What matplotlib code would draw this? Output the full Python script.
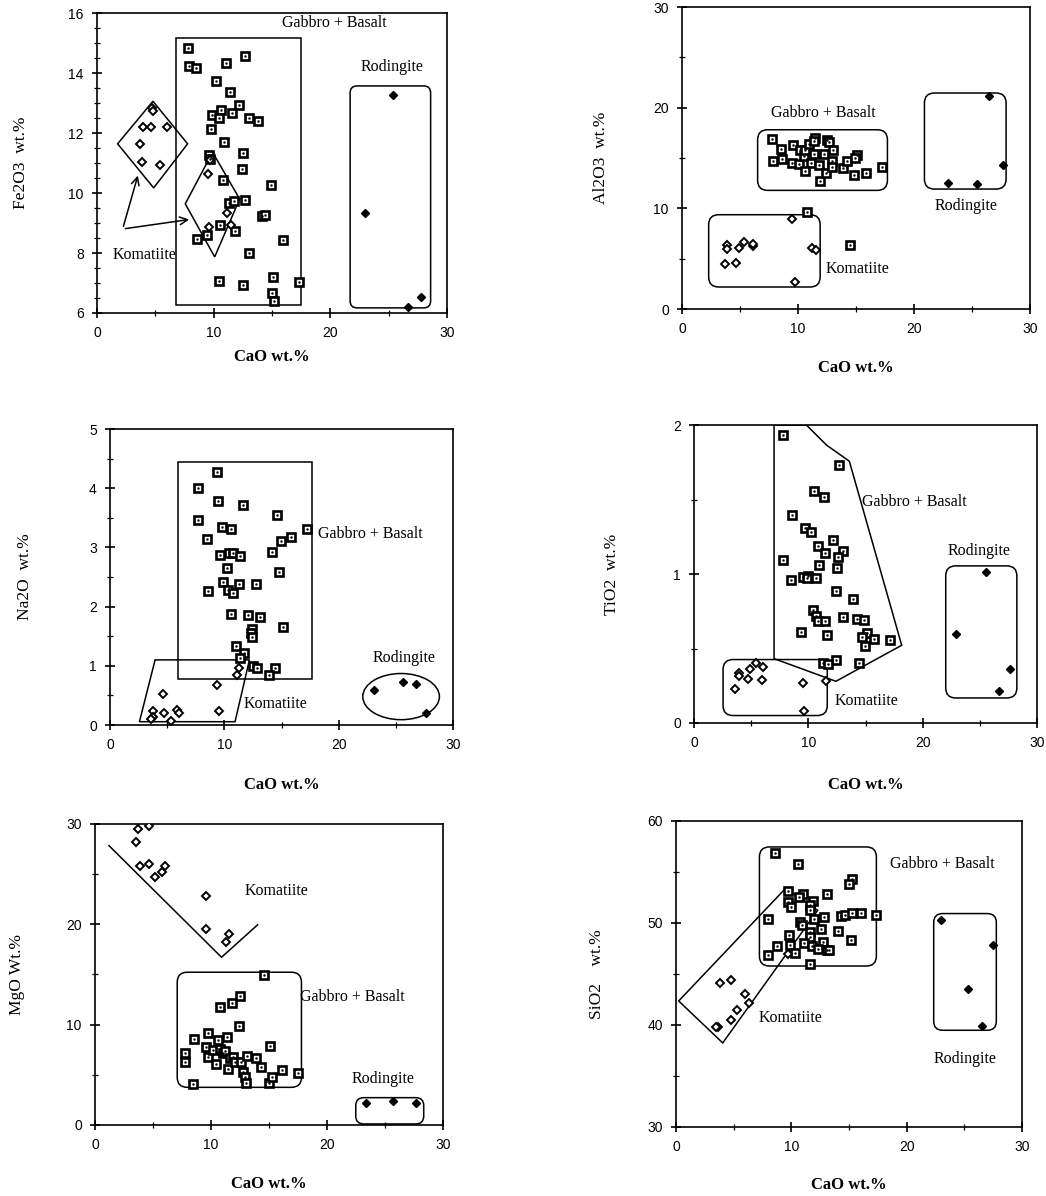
import matplotlib.pyplot as plt
from matplotlib.patches import Polygon, FancyBboxPatch, Ellipse
from matplotlib.ticker import MultipleLocator

# ---- data (CaO, oxide) ----
fe_gabbro = [(7.8, 14.83), (7.86, 14.22), (8.5, 14.17), (11.06, 14.33), (12.7, 14.58),
             (10.2, 13.72), (11.37, 13.36), (12.2, 12.94), (9.9, 12.6), (10.6, 12.78),
             (10.46, 12.5), (11.57, 12.67), (13.0, 12.49), (13.77, 12.4), (9.8, 12.13),
             (10.86, 11.7), (12.49, 11.33), (9.6, 11.28), (9.71, 11.13), (12.43, 10.8),
             (10.8, 10.44), (14.9, 10.28), (11.29, 9.67), (11.71, 9.72), (12.71, 9.78),
             (14.14, 9.24), (14.43, 9.28), (8.57, 8.47), (9.46, 8.61), (10.57, 8.94),
             (11.86, 8.74), (13.0, 8.0), (15.94, 8.44), (10.43, 7.06), (12.49, 6.94),
             (15.09, 7.19), (15.0, 6.67), (15.2, 6.41), (17.29, 7.02)]
fe_komatiite = [(4.7, 12.85), (4.8, 12.72), (3.94, 12.2), (4.66, 12.2), (6.0, 12.2),
                (3.66, 11.65), (3.83, 11.02), (5.37, 10.93), (9.49, 10.62), (9.71, 11.1),
                (11.14, 9.33), (9.63, 8.86), (11.49, 8.95)]
fe_rodingite = [(25.4, 13.27), (23.0, 9.32), (27.8, 6.54), (26.7, 6.21)]

al_gabbro = [(7.75, 16.89), (7.81, 14.67), (8.56, 15.93), (8.61, 14.93), (9.53, 16.26),
             (10.19, 15.76), (9.5, 14.5), (10.05, 14.4), (10.54, 15.17), (10.62, 15.83),
             (10.91, 16.42), (11.48, 16.99), (11.34, 16.66), (11.11, 14.5), (10.62, 13.68),
             (11.34, 15.43), (11.77, 14.27), (11.86, 12.68), (12.2, 15.43), (12.49, 16.82),
             (12.63, 16.56), (12.43, 13.51), (12.92, 14.67), (13.06, 15.76), (12.92, 14.1),
             (13.92, 14.0), (14.21, 14.67), (14.79, 13.34), (15.07, 15.3), (14.93, 15.0),
             (15.88, 13.51), (17.23, 14.1), (14.5, 6.39), (10.77, 9.64)]
al_komatiite = [(3.73, 4.47), (4.68, 4.57), (3.88, 6.39), (3.88, 5.96), (4.88, 6.06),
                (5.37, 6.66), (6.12, 6.23), (6.12, 6.46), (9.45, 8.94), (9.76, 2.65),
                (11.25, 6.06), (11.54, 5.89)]
al_rodingite = [(22.97, 12.52), (25.41, 12.42), (26.5, 21.13), (27.7, 14.27)]

na_gabbro = [(9.33, 4.27), (7.73, 4.01), (9.42, 3.78), (11.6, 3.72), (14.58, 3.54),
             (7.7, 3.47), (9.77, 3.34), (10.55, 3.31), (17.2, 3.31), (8.45, 3.15),
             (15.8, 3.17), (14.96, 3.1), (14.14, 2.93), (9.62, 2.87), (10.38, 2.9),
             (10.79, 2.91), (11.37, 2.85), (10.2, 2.65), (14.81, 2.59), (9.91, 2.41),
             (11.25, 2.38), (12.77, 2.38), (8.57, 2.27), (10.35, 2.28), (10.73, 2.23),
             (10.58, 1.88), (12.1, 1.85), (13.12, 1.83), (15.16, 1.66), (12.45, 1.63),
             (12.3, 1.56), (12.39, 1.48), (11.02, 1.34), (11.72, 1.21), (11.37, 1.13),
             (12.54, 0.99), (12.89, 0.97), (14.43, 0.96), (13.88, 0.85)]
na_komatiite = [(4.6, 0.52), (3.79, 0.23), (3.79, 0.14), (3.56, 0.1), (4.72, 0.2),
                (5.83, 0.25), (6.03, 0.2), (5.3, 0.07), (9.39, 0.67), (9.5, 0.23),
                (11.31, 0.96), (11.08, 0.85)]
na_rodingite = [(23.09, 0.59), (25.66, 0.73), (26.76, 0.7), (27.64, 0.21)]

ti_gabbro = [(7.74, 1.937), (12.7, 1.73), (10.51, 1.56), (11.39, 1.52), (8.53, 1.395),
             (9.69, 1.31), (10.19, 1.283), (12.12, 1.227), (10.86, 1.19), (13.05, 1.156),
             (11.45, 1.144), (12.61, 1.115), (7.74, 1.093), (10.95, 1.064), (12.47, 1.044),
             (9.93, 0.99), (8.44, 0.96), (9.55, 0.98), (9.84, 0.974), (10.63, 0.974),
             (12.41, 0.885), (13.87, 0.835), (10.36, 0.761), (10.66, 0.717), (10.8, 0.683),
             (11.45, 0.685), (13.0, 0.712), (14.22, 0.697), (14.86, 0.69), (9.34, 0.611),
             (11.65, 0.593), (15.1, 0.607), (14.66, 0.578), (15.74, 0.567), (17.14, 0.555),
             (14.95, 0.517), (12.41, 0.421), (11.24, 0.403), (11.74, 0.394), (14.45, 0.403)]
ti_komatiite = [(5.4, 0.405), (4.88, 0.365), (6.04, 0.376), (3.91, 0.336), (3.91, 0.314),
                (4.76, 0.298), (5.96, 0.291), (3.62, 0.231), (9.49, 0.269), (11.5, 0.28),
                (9.64, 0.078)]
ti_rodingite = [(22.92, 0.6), (25.49, 1.015), (27.65, 0.365), (26.63, 0.215)]

mg_gabbro = [(14.56, 14.95), (12.49, 12.86), (11.77, 12.19), (10.82, 11.79), (12.43, 9.9),
             (9.76, 9.14), (8.56, 8.54), (10.62, 8.47), (11.4, 8.74), (15.13, 7.91),
             (7.75, 7.14), (7.75, 6.31), (9.56, 7.81), (9.76, 6.81), (10.19, 7.48),
             (10.76, 7.54), (11.05, 7.14), (11.2, 7.41), (11.63, 6.64), (11.91, 6.81),
             (11.48, 5.55), (10.42, 6.08), (12.06, 6.31), (12.63, 6.31), (13.12, 6.88),
             (13.87, 6.71), (14.27, 5.81), (12.72, 5.32), (12.92, 4.75), (13.06, 4.15),
             (8.47, 4.09), (15.02, 4.15), (15.3, 4.82), (16.08, 5.48), (17.51, 5.22)]
mg_komatiite = [(3.73, 29.5), (4.68, 29.8), (3.53, 28.24), (3.88, 25.81), (4.68, 25.98),
                (5.17, 24.75), (5.8, 25.25), (6.03, 25.81), (9.53, 22.82), (9.53, 19.5),
                (11.28, 18.27), (11.57, 19.0)]
mg_rodingite = [(23.34, 2.16), (25.7, 2.39), (27.65, 2.16)]

si_gabbro = [(8.55, 56.86), (10.55, 55.75), (15.26, 54.35), (14.97, 53.79), (9.68, 53.14),
             (11.01, 52.81), (10.64, 52.55), (13.09, 52.81), (11.88, 52.16), (9.71, 52.06),
             (11.59, 51.73), (10.0, 51.57), (11.65, 51.24), (7.98, 50.36), (11.94, 50.42),
             (12.8, 50.59), (14.34, 50.65), (14.68, 50.75), (15.26, 50.98), (16.07, 51.01),
             (17.37, 50.82), (10.72, 50.1), (10.92, 49.77), (12.57, 49.44), (14.05, 49.22),
             (11.59, 49.12), (9.8, 48.79), (11.65, 48.63), (15.2, 48.3), (11.13, 48.04),
             (12.75, 48.14), (8.76, 47.71), (9.91, 47.81), (11.77, 47.71), (12.28, 47.48),
             (13.09, 47.32), (13.24, 47.39), (10.35, 47.09), (7.95, 46.83), (11.65, 46.01)]
si_komatiite = [(9.68, 46.93), (3.84, 44.12), (4.77, 44.38), (5.95, 43.07), (6.3, 42.16),
                (5.29, 41.44), (4.77, 40.52), (3.64, 39.8), (3.5, 39.8)]
si_rodingite = [(22.98, 50.33), (25.32, 43.5), (27.46, 47.81), (26.53, 39.9)]

# field outlines (CaO, oxide)
fe_gb_rect = (6.77, 6.27, 17.5, 15.18)
fe_ko_diamond1 = [(1.77, 11.64), (4.8, 13.06), (7.77, 11.64), (4.86, 10.17)]
fe_ko_diamond2 = [(7.57, 9.64), (9.91, 11.36), (12.23, 9.8), (10.09, 7.87)]
fe_ro_box = (21.7, 6.17, 28.6, 13.57)
al_gb_box = (6.52, 11.79, 17.71, 17.81)
al_ko_box = (2.3, 2.19, 11.91, 9.37)
al_ro_box = (20.9, 11.92, 27.94, 21.46)
na_gb_rect = (5.98, 0.77, 17.64, 4.44)
na_ko_poly = [(2.57, 0.056), (3.94, 1.1), (12.19, 1.1), (10.93, 0.056)]
na_ro_ellipse = (25.45, 0.48, 6.7, 0.78)
ti_gb_poly = [(7.0, 2.0), (9.84, 2.0), (11.59, 1.866), (13.58, 1.758), (18.16, 0.522),
              (12.41, 0.28), (7.0, 0.432)]
ti_ko_box = (2.54, 0.05, 11.65, 0.426)
ti_ro_box = (22.01, 0.168, 28.23, 1.055)
mg_ko_line = [(1.15, 27.9), (10.91, 16.71), (14.07, 20.0)]
mg_gb_box = (7.09, 3.75, 17.8, 15.22)
mg_ro_box = (22.48, 0.1, 28.34, 2.72)
si_gb_box = (7.23, 45.78, 17.37, 57.45)
si_ko_poly = [(0.23, 42.35), (9.48, 53.37), (12.28, 51.24), (4.05, 38.24)]
si_ro_box = (22.34, 39.48, 27.77, 50.92)

W, H = 1046, 1196
fig = plt.figure(figsize=(W / 100, H / 100), dpi=100)
serif = 'Liberation Serif'
sans = 'Liberation Sans'


def make_axes(rect, ylim, ystep, yminor, ylabel, ylab_x, xlab_y):
    ax = fig.add_axes(rect)
    ax.set_xlim(0, 30)
    ax.set_ylim(*ylim)
    ax.xaxis.set_major_locator(MultipleLocator(10))
    ax.xaxis.set_minor_locator(MultipleLocator(5))
    ax.yaxis.set_major_locator(MultipleLocator(ystep))
    ax.yaxis.set_minor_locator(MultipleLocator(yminor))
    ax.tick_params(which='major', direction='inout', length=7, width=1.2,
                   labelsize=10, pad=6)
    ax.tick_params(which='minor', direction='inout', length=4, width=0.9)
    for lab in ax.get_xticklabels() + ax.get_yticklabels():
        lab.set_fontfamily(sans)
    for s in ax.spines.values():
        s.set_linewidth(1.2)
    ax.set_xlabel('CaO wt.%', fontfamily=serif, fontsize=12, fontweight='bold')
    ax.set_ylabel(ylabel, fontfamily=serif, fontsize=12.5)
    ax.xaxis.set_label_coords(0.5, xlab_y)
    ax.yaxis.set_label_coords(ylab_x, 0.5)
    return ax


def plot_points(ax, gabbro, komatiite, rodingite):
    gx, gy = zip(*gabbro)
    ax.plot(gx, gy, 's', ms=5.8, mfc='white', mec='black', mew=1.9, zorder=3)
    ax.plot(gx, gy, '.', ms=1.5, color='black', zorder=4)
    kx, ky = zip(*komatiite)
    ax.plot(kx, ky, 'D', ms=3.8, mfc='white', mec='black', mew=1.4, zorder=3)
    rx, ry = zip(*rodingite)
    ax.plot(rx, ry, 'D', ms=4.5, color='black', zorder=3)


def rounded(ax, box, rad_px=9):
    x0, y0, x1, y1 = box
    pos = ax.get_position()
    xs = (ax.get_xlim()[1] - ax.get_xlim()[0]) / (pos.width * W)
    ys = (ax.get_ylim()[1] - ax.get_ylim()[0]) / (pos.height * H)
    rx, ry = rad_px * xs, rad_px * ys
    ax.add_patch(FancyBboxPatch((x0, y0), x1 - x0, y1 - y0,
                                boxstyle=f'round,pad=0,rounding_size={rx}',
                                mutation_aspect=ry / rx, fill=False,
                                ec='black', lw=1.1))


def rect(ax, box):
    x0, y0, x1, y1 = box
    ax.add_patch(Polygon([(x0, y0), (x1, y0), (x1, y1), (x0, y1)], closed=True,
                         fill=False, ec='black', lw=1.1))


def poly(ax, pts, closed=True):
    ax.add_patch(Polygon(pts, closed=closed, fill=False, ec='black', lw=1.1))


def label(ax, x, y, s, ha='center'):
    ax.text(x, y, s, fontfamily=serif, fontsize=11.5, ha=ha, va='center')


# ---- Fe2O3 ----
ax1 = make_axes([0.0927, 0.7383, 0.3346, 0.2508], (6, 16), 2, 0.5,
                'Fe2O3  wt.%', -0.195, -0.12)
rect(ax1, fe_gb_rect)
poly(ax1, fe_ko_diamond1)
poly(ax1, fe_ko_diamond2)
rounded(ax1, fe_ro_box, 7)
plot_points(ax1, fe_gabbro, fe_komatiite, fe_rodingite)
for tip in [(3.57, 10.67), (8.14, 9.13)]:
    ax1.annotate('', xy=tip, xytext=(2.2, 8.8),
                 arrowprops=dict(arrowstyle='->', lw=1.1, color='black',
                                 mutation_scale=14))
label(ax1, 4.1, 7.94, 'Komatiite')
label(ax1, 20.35, 15.67, 'Gabbro + Basalt')
label(ax1, 25.3, 14.21, 'Rodingite')

# ---- Al2O3 ----
ax2 = make_axes([0.652, 0.7416, 0.3327, 0.2525], (0, 30), 10, 5,
                'Al2O3  wt.%', -0.21, -0.17)
rounded(ax2, al_gb_box, 10)
rounded(ax2, al_ko_box, 10)
rounded(ax2, al_ro_box, 10)
plot_points(ax2, al_gabbro, al_komatiite, al_rodingite)
label(ax2, 12.14, 19.5, 'Gabbro + Basalt')
label(ax2, 12.35, 3.97, 'Komatiite', ha='left')
label(ax2, 24.5, 10.2, 'Rodingite')

# ---- Na2O ----
ax3 = make_axes([0.1052, 0.3938, 0.328, 0.2475], (0, 5), 1, 0.5,
                'Na2O  wt.%', -0.225, -0.175)
rect(ax3, na_gb_rect)
poly(ax3, na_ko_poly)
cx, cy, ew, eh = na_ro_ellipse
ax3.add_patch(Ellipse((cx, cy), ew, eh, fill=False, ec='black', lw=1.1))
plot_points(ax3, na_gabbro, na_komatiite, na_rodingite)
label(ax3, 18.22, 3.22, 'Gabbro + Basalt', ha='left')
label(ax3, 11.66, 0.35, 'Komatiite', ha='left')
label(ax3, 25.7, 1.13, 'Rodingite')

# ---- TiO2 ----
ax4 = make_axes([0.6635, 0.3955, 0.328, 0.249], (0, 2), 1, 0.5,
                'TiO2  wt.%', -0.215, -0.18)
poly(ax4, ti_gb_poly)
rounded(ax4, ti_ko_box, 10)
rounded(ax4, ti_ro_box, 10)
plot_points(ax4, ti_gabbro, ti_komatiite, ti_rodingite)
label(ax4, 14.66, 1.485, 'Gabbro + Basalt', ha='left')
label(ax4, 12.32, 0.146, 'Komatiite', ha='left')
label(ax4, 24.88, 1.156, 'Rodingite')

# ---- MgO ----
ax5 = make_axes([0.0908, 0.0594, 0.3327, 0.2517], (0, 30), 10, 5,
                'MgO Wt.%', -0.2, -0.17)
poly(ax5, mg_ko_line, closed=False)
rounded(ax5, mg_gb_box, 10)
rounded(ax5, mg_ro_box, 8)
plot_points(ax5, mg_gabbro, mg_komatiite, mg_rodingite)
label(ax5, 12.92, 23.36, 'Komatiite', ha='left')
label(ax5, 17.66, 12.79, 'Gabbro + Basalt', ha='left')
label(ax5, 24.83, 4.55, 'Rodingite')

# ---- SiO2 ----
ax6 = make_axes([0.6463, 0.0577, 0.3308, 0.2559], (30, 60), 10, 5,
                'SiO2    wt.%', -0.205, -0.165)
rounded(ax6, si_gb_box, 10)
poly(ax6, si_ko_poly)
rounded(ax6, si_ro_box, 9)
plot_points(ax6, si_gabbro, si_komatiite, si_rodingite)
label(ax6, 18.53, 55.75, 'Gabbro + Basalt', ha='left')
label(ax6, 7.17, 40.72, 'Komatiite', ha='left')
label(ax6, 25.09, 36.7, 'Rodingite')

fig.savefig('out.png', dpi=100)
